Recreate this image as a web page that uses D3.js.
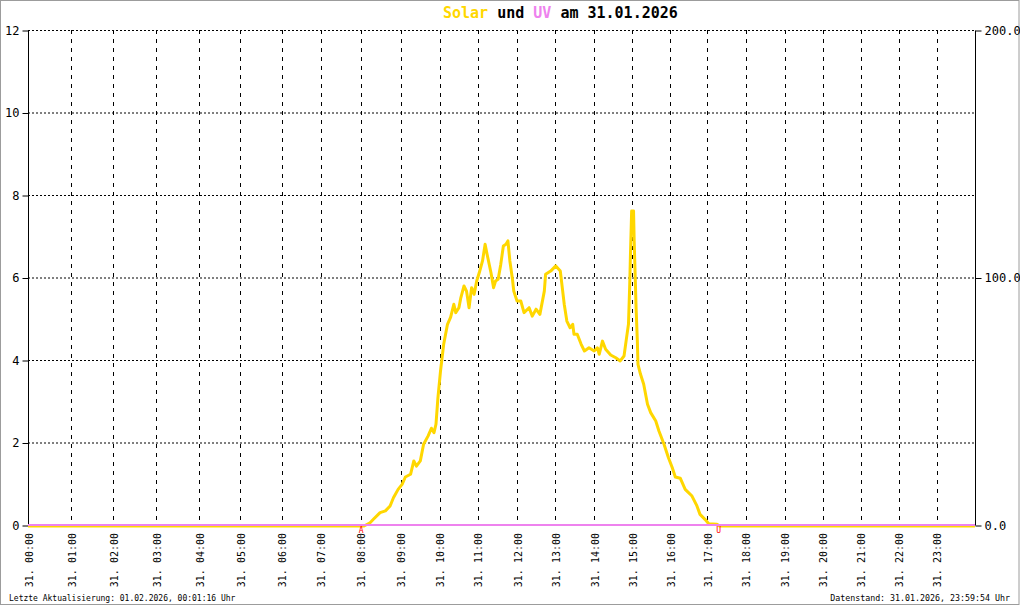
<!DOCTYPE html>
<html><head><meta charset="utf-8">
<script src="https://cdn.jsdelivr.net/npm/d3@7"></script>
<style>
html,body{margin:0;padding:0;background:#fff;}
svg{display:block;font-family:"DejaVu Sans Mono","Liberation Mono",monospace;}
</style></head>
<body>
<svg id="c" width="1020" height="606"></svg>
<script>
// ---------- data ----------
const titleParts = ["Solar", " und ", "UV", " am 31.01.2026"];
const hourLabels = ["31. 00:00","31. 01:00","31. 02:00","31. 03:00","31. 04:00","31. 05:00",
  "31. 06:00","31. 07:00","31. 08:00","31. 09:00","31. 10:00","31. 11:00","31. 12:00",
  "31. 13:00","31. 14:00","31. 15:00","31. 16:00","31. 17:00","31. 18:00","31. 19:00",
  "31. 20:00","31. 21:00","31. 22:00","31. 23:00"];
// number of stored records in each hour (x axis runs over records, not clock time)
const recordsPerHour = [43,42,43,43,41,41,39,40,40,39,38,39,38,39,38,38,37,38,39,38,38,38,38,38];
const uvTicks = [0,2,4,6,8,10,12];
const solarTicks = [0,100,200];
const solarTimes = ["00:00","08:05","08:14","08:19","08:29","08:37","08:44","08:49","08:56","09:02","09:07",
  "09:15","09:20","09:24","09:30","09:35","09:42","09:47","09:51","09:54","09:57","10:01","10:06",
  "10:12","10:17","10:22","10:25","10:30","10:33","10:38","10:42","10:46","10:50","10:54","10:58",
  "11:02","11:07","11:11","11:14","11:20","11:24","11:27","11:31","11:35","11:39","11:43","11:46",
  "11:49","11:53","11:55","12:00","12:06","12:11","12:19","12:24","12:30","12:36","12:43","12:45",
  "12:53","13:01","13:08","13:11","13:14","13:18","13:23","13:27","13:29","13:34","13:40","13:45",
  "13:52","14:00","14:05","14:08","14:13","14:18","14:26","14:34","14:41","14:47","14:51","14:54",
  "14:56","14:57","14:59","15:02","15:03","15:06","15:08","15:09","15:13","15:18","15:24","15:29",
  "15:37","15:42","15:50","15:57","16:03","16:08","16:16","16:24","16:35","16:43","16:48","16:56",
  "17:02","17:15","17:19","23:59:54"];
const solarValues = [0,0,1.3,2.7,5.4,6.1,8.1,11.4,14.8,16.8,19.8,
  20.9,26.3,24.2,26.3,33.0,36.4,39.5,37.7,41.1,51.8,62.6,73.4,
  81.5,84.4,89.6,86.2,88.2,92.2,97.0,94.9,88.2,96.3,93.6,99.0,
  102.3,107.1,113.8,109.8,102.3,96.3,99.0,99.7,105.7,113.1,113.8,115.2,
  107.1,99.7,94.9,90.9,90.9,86.2,88.2,84.8,87.6,85.5,94.9,101.7,
  103.0,105.1,103.0,96.3,89.6,82.8,80.1,81.5,77.5,77.5,73.4,70.7,
  72.0,70.7,72.0,69.4,74.7,71.4,69.1,68.0,66.7,68.7,76.1,81.5,
  97.7,108.4,127.3,127.3,115.2,88.2,74.7,65.3,61.3,57.3,49.2,45.8,
  42.4,38.4,33.0,27.6,23.6,19.8,19.3,14.8,12.1,8.1,4.7,2.7,
  0.9,0.7,0,0];
const uvTimes = ["00:00","23:59:54"];
const uvValues = [0,0];
const markers = [{t:"08:00",s:"A"},{t:"17:17",s:"U"}];
const footerLeft = "Letzte Aktualisierung: 01.02.2026, 00:01:16 Uhr";
const footerRight = "Datenstand: 31.01.2026, 23:59:54 Uhr";

// ---------- layout ----------
const L = 28, R = 975, T = 30, B = 525;
const svg = d3.select("#c");

const cum = [0];
recordsPerHour.forEach(n => cum.push(cum[cum.length-1] + n));
const hourToRec = d3.scaleLinear().domain(d3.range(25)).range(cum);
const x = d3.scaleLinear().domain([0, cum[cum.length-1]]).range([L, R]);
const parseH = s => { const p = s.split(":").map(Number); return p[0] + p[1]/60 + (p[2]||0)/3600; };
const xt = s => x(hourToRec(parseH(s)));
const yL = d3.scaleLinear().domain([0,12]).range([B, T]);
const yR = d3.scaleLinear().domain([0,200]).range([B, T]);

// frame
svg.append("rect").attr("x",0.5).attr("y",0.5).attr("width",1018.5).attr("height",604)
  .attr("fill","#fff").attr("stroke","#9c9c9c");

// horizontal grid
svg.append("g").selectAll("line").data(uvTicks.filter(d=>d>0)).join("line")
  .attr("x1",L).attr("x2",R).attr("y1",d=>yL(d)+0.5).attr("y2",d=>yL(d)+0.5)
  .attr("stroke","#000").attr("stroke-dasharray","2,2");
// vertical grid
svg.append("g").selectAll("line").data(d3.range(1,24)).join("line")
  .attr("x1",d=>Math.round(x(hourToRec(d)))+0.5).attr("x2",d=>Math.round(x(hourToRec(d)))+0.5)
  .attr("y1",T).attr("y2",B)
  .attr("stroke","#000").attr("stroke-dasharray","4,5");

// left axis
const axL = d3.axisLeft(yL).tickValues(uvTicks).tickSize(6).tickPadding(3).tickFormat(d3.format("d"));
const gL = svg.append("g").attr("transform",`translate(${L+0.5},0.5)`).call(axL);
gL.select(".domain").attr("d",`M0,${T}V${B}`);
gL.selectAll("text").attr("font-size",12).attr("font-family","DejaVu Sans Mono").attr("fill","#000");
// right axis
const axR = d3.axisRight(yR).tickValues(solarTicks).tickSize(6).tickPadding(3).tickFormat(d3.format(".1f"));
const gR = svg.append("g").attr("transform",`translate(${R+0.5},0.5)`).call(axR);
gR.select(".domain").attr("d",`M0,${T}V${B}`);
gR.selectAll("text").attr("font-size",12).attr("font-family","DejaVu Sans Mono").attr("fill","#000");

// x labels (rotated)
svg.append("g").selectAll("text").data(hourLabels).join("text")
  .attr("transform",(d,i)=>`translate(${x(hourToRec(i))+1},533) rotate(-90)`)
  .attr("text-anchor","end").attr("dy","0.35em")
  .attr("font-size",10).attr("fill","#000").text(d=>d);

// solar line
const solar = solarTimes.map((t,i)=>({t, v: solarValues[i]}));
svg.append("path").datum(solar)
  .attr("d", d3.line().x(d=>xt(d.t)).y(d=>yR(d.v)+1))
  .attr("fill","none").attr("stroke","#FFD700").attr("stroke-width",3)
  .attr("stroke-linejoin","round");
// uv line
const uv = uvTimes.map((t,i)=>({t, v: uvValues[i]}));
svg.append("path").datum(uv)
  .attr("d", d3.line().x(d=>xt(d.t)).y(d=>yL(d.v)))
  .attr("fill","none").attr("stroke","#EE82EE").attr("stroke-width",2);

// sunrise / sunset markers
svg.append("g").selectAll("text").data(markers).join("text")
  .attr("x",d=>xt(d.t)+0.5).attr("y",533).attr("text-anchor","middle")
  .attr("font-size",8).attr("fill","#ff0000").text(d=>d.s);

// title
const colors = ["#FFD700","#000","#EE82EE","#000"];
const title = svg.append("text").attr("x",443).attr("y",18)
  .attr("font-size",15).attr("font-weight","bold").attr("xml:space","preserve");
titleParts.forEach((p,i)=>title.append("tspan").attr("fill",colors[i]).text(p));

// footers
svg.append("text").attr("x",9).attr("y",601).attr("font-size",8).attr("fill","#000").text(footerLeft);
svg.append("text").attr("x",1010).attr("y",601).attr("text-anchor","end").attr("font-size",8.3).attr("fill","#000").text(footerRight);
</script>
</body></html>
